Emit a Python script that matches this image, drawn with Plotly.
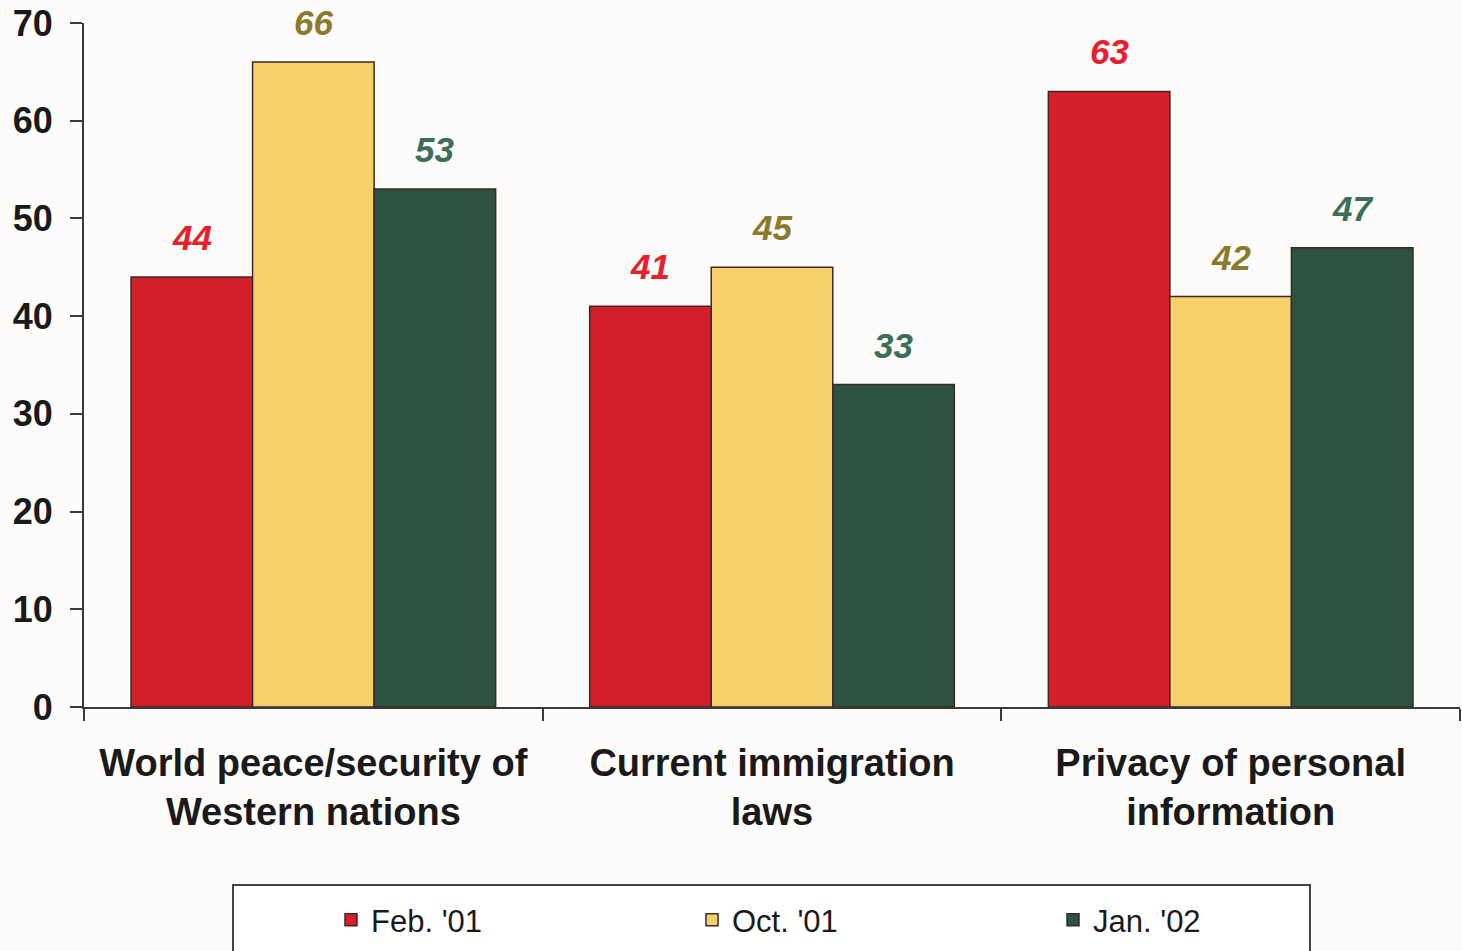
import plotly.graph_objects as go

categories = ["World peace/security of<br>Western nations", "Current immigration<br>laws", "Privacy of personal<br>information"]
series_names = ["Feb. '01", "Oct. '01", "Jan. '02"]
feb01 = [44, 41, 63]
oct01 = [66, 45, 42]
jan02 = [53, 33, 47]
y_ticks = [0, 10, 20, 30, 40, 50, 60, 70]

series_values = [feb01, oct01, jan02]
bar_colors = ["#d41f2a", "#f8d06a", "#2e5241"]
label_colors = ["#e8202e", "#8c7a2c", "#3d6e58"]

FONT = "Liberation Sans, Arial, sans-serif"
bargap = 0.205

W, H = 1462, 951
PL, PT, PB = 84, 23, 707           # plot area in page px
PW, PH = 1376, PB - PT

fig = go.Figure()
for name, vals, col in zip(series_names, series_values, bar_colors):
    fig.add_trace(go.Bar(
        x=categories, y=vals, name=name,
        marker=dict(color=col, line=dict(color="#3a2a2a", width=1.5)),
        hoverinfo="x+y+name",
    ))

n = len(series_names)
bw = (1 - bargap) / n
annotations = []
for j, (vals, lc) in enumerate(zip(series_values, label_colors)):
    for i, v in enumerate(vals):
        annotations.append(dict(
            x=i + (j - (n - 1) / 2) * bw, y=v, xref="x", yref="y",
            text=str(v), showarrow=False, yanchor="bottom", yshift=18,
            font=dict(family=FONT, size=35, color=lc, weight="bold", style="italic"),
        ))

fig.update_layout(
    width=W, height=H,
    margin=dict(l=PL, r=W - PL - PW, t=PT, b=H - PB),
    paper_bgcolor="#fdfcfb", plot_bgcolor="#fdfcfb",
    barmode="group", bargap=bargap, bargroupgap=0,
    showlegend=True,
    legend=dict(
        orientation="h", x=(331 - PL) / PW, xanchor="left",
        y=(PB - 893) / PH, yanchor="top",
        entrywidth=316, entrywidthmode="pixels",
        font=dict(family=FONT, size=31, color="#1a1a1a"),
        bgcolor="rgba(0,0,0,0)", borderwidth=0,
    ),
    annotations=annotations,
    shapes=[dict(type="rect", xref="paper", yref="paper",
                 x0=(233 - PL) / PW, x1=(1310 - PL) / PW,
                 y0=(PB - 885) / PH, y1=(PB - 975) / PH,
                 line=dict(color="#444", width=2), fillcolor="#ffffff", layer="below")],
    xaxis=dict(
        showline=True, linecolor="#3a3a3a", linewidth=2,
        ticks="outside", ticklen=12, tickwidth=2, tickcolor="#3a3a3a",
        tickson="boundaries", ticklabelstandoff=21,
        tickfont=dict(family=FONT, size=38, color="#1a1a1a", weight="bold"),
        showgrid=False, zeroline=False,
    ),
    yaxis=dict(
        range=[0, 70], tickvals=y_ticks,
        showline=True, linecolor="#3a3a3a", linewidth=2,
        ticks="outside", ticklen=12, tickwidth=2, tickcolor="#3a3a3a",
        ticklabelstandoff=10, ticklabeloverflow="allow",
        tickfont=dict(family=FONT, size=36, color="#1a1a1a", weight="bold"),
        showgrid=False, zeroline=False,
    ),
)

fig.write_html(
    "out.html",
    config={"displayModeBar": False},
    post_script="document.body.style.margin='0';document.body.style.overflow='hidden';",
)
